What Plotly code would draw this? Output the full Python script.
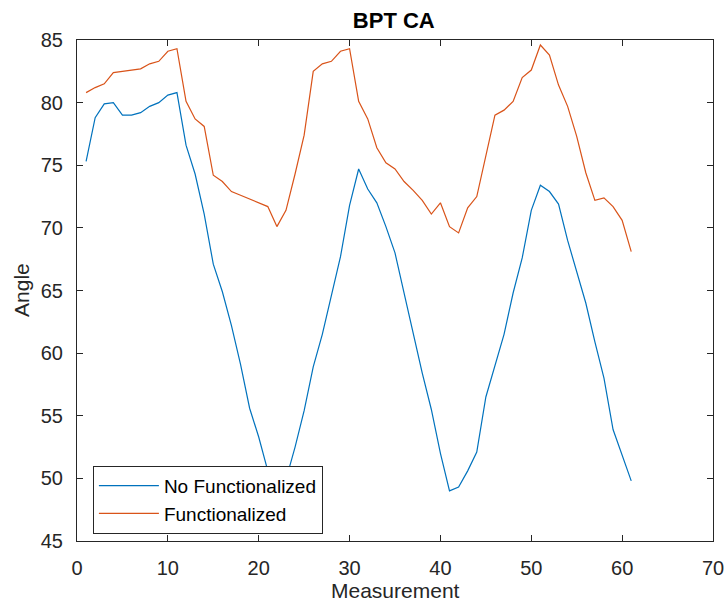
import plotly.graph_objects as go

measurement = list(range(1, 62))
no_functionalized = [
    75.3, 78.8, 79.9, 80.0, 79.0, 79.0, 79.2, 79.7, 80.0, 80.6,
    80.8, 76.6, 74.3, 71.1, 67.1, 64.9, 62.2, 59.1, 55.6, 53.3,
    50.6, 48.2, 49.9, 52.5, 55.4, 58.9, 61.5, 64.5, 67.7, 71.8,
    74.7, 73.1, 72.0, 70.1, 68.0, 64.8, 61.5, 58.4, 55.5, 52.0,
    49.0, 49.3, 50.6, 52.1, 56.5, 58.9, 61.5, 64.8, 67.6, 71.4,
    73.4, 72.9, 71.9, 69.0, 66.6, 64.0, 60.9, 58.0, 53.9, 51.8,
    49.8,
]
functionalized = [
    80.8, 81.2, 81.5, 82.4, 82.5, 82.6, 82.7, 83.1, 83.3, 84.1,
    84.3, 80.1, 78.7, 78.1, 74.2, 73.7, 72.9, 72.6, 72.3, 72.0,
    71.7, 70.1, 71.4, 74.3, 77.4, 82.5, 83.1, 83.3, 84.1, 84.3,
    80.1, 78.7, 76.4, 75.2, 74.7, 73.7, 73.0, 72.2, 71.1, 72.0,
    70.1, 69.6, 71.6, 72.5, 75.7, 79.0, 79.4, 80.1, 82.0, 82.6,
    84.6, 83.8, 81.4, 79.7, 77.3, 74.4, 72.2, 72.4, 71.7, 70.6,
    68.1,
]
series_names = ["No Functionalized", "Functionalized"]
x_ticks = [0, 10, 20, 30, 40, 50, 60, 70]
y_ticks = [45, 50, 55, 60, 65, 70, 75, 80, 85]

FONT = "Liberation Sans, Arial, sans-serif"
AX = "#262626"

fig = go.Figure()
fig.add_trace(go.Scatter(x=measurement, y=no_functionalized, mode="lines",
                         name=series_names[0],
                         line=dict(color="#0072BD", width=1.2)))
fig.add_trace(go.Scatter(x=measurement, y=functionalized, mode="lines",
                         name=series_names[1],
                         line=dict(color="#D95319", width=1.2)))

axis_common = dict(
    showgrid=False, zeroline=False, showline=True, linecolor=AX, linewidth=1,
    mirror="ticks", ticks="inside", ticklen=6, tickwidth=1, tickcolor=AX,
    tickfont=dict(family=FONT, size=20, color=AX), automargin=False,
)

fig.update_layout(
    width=727, height=604,
    margin=dict(l=77, r=14, t=40, b=63),
    paper_bgcolor="white", plot_bgcolor="white",
    font=dict(family=FONT, color=AX),
    title=dict(text="<b>BPT CA</b>", x=0.5417, xanchor="center",
               y=0.967, yanchor="middle",
               font=dict(family=FONT, size=22, color="black")),
    xaxis=dict(range=[0, 70], tickvals=x_ticks, ticklabelstandoff=9,
               **axis_common),
    yaxis=dict(range=[45, 85], tickvals=y_ticks, ticklabelstandoff=9,
               **axis_common),
    legend=dict(x=0.025, y=0.15, xanchor="left", yanchor="top",
                bgcolor="white", bordercolor=AX, borderwidth=1,
                font=dict(family=FONT, size=19, color="black"),
                tracegroupgap=0, itemwidth=60),
    showlegend=True,
    annotations=[
        dict(text="Measurement", xref="paper", yref="paper",
             x=0.5, y=-0.0988, xanchor="center", yanchor="middle",
             borderpad=0, showarrow=False,
             font=dict(family=FONT, size=21, color=AX)),
        dict(text="Angle", xref="paper", yref="paper",
             x=-0.0865, y=0.501, xanchor="center", yanchor="middle",
             textangle=-90, showarrow=False,
             font=dict(family=FONT, size=21, color=AX)),
    ],
)

fig.write_html("out.html")
